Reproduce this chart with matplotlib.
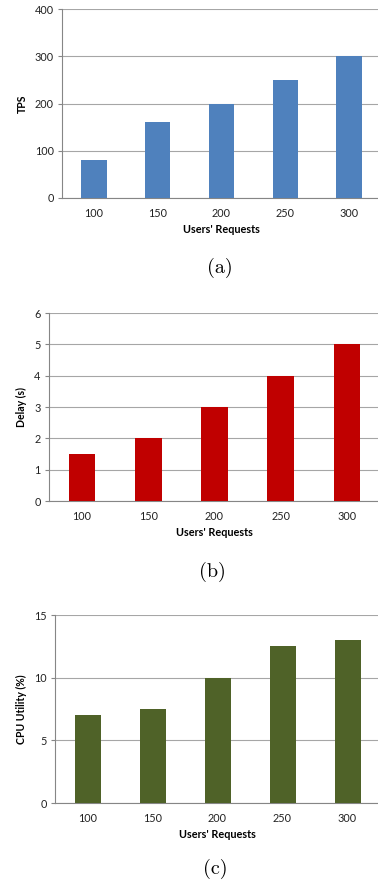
import matplotlib
matplotlib.use("Agg")
import matplotlib.pyplot as plt
import numpy as np

requests = ["100", "150", "200", "250", "300"]
tps = [80, 160, 200, 250, 300]
delay = [1.5, 2, 3, 4, 5]
cpu = [7, 7.5, 10, 12.5, 13]

W, H = 378, 886
fig = plt.figure(figsize=(W / 100, H / 100), dpi=100)
plt.rcParams['font.family'] = ['Lato', 'DejaVu Sans']


def panel(left, top, bottom, right, values, color, ylabel, yticks, caption, cap_y):
    ax = fig.add_axes([left / W, 1 - bottom / H, (right - left) / W, (bottom - top) / H])
    x = np.arange(len(requests))
    ax.bar(x, values, width=0.4, color=color, zorder=3)
    ax.set_xlim(-0.5, len(requests) - 0.5)
    ax.set_ylim(yticks[0], yticks[-1])
    ax.set_yticks(yticks)
    ax.set_xticks(x)
    ax.set_xticklabels(requests)
    ax.yaxis.grid(True, color='#a6a6a6', linewidth=0.8, zorder=0)
    for s in ['top', 'right']:
        ax.spines[s].set_visible(False)
    for s in ['left', 'bottom']:
        ax.spines[s].set_color('#868686')
        ax.spines[s].set_linewidth(0.8)
    ax.tick_params(axis='y', length=3, color='#868686', labelsize=7.8, pad=3, labelcolor='#222222')
    ax.tick_params(axis='x', length=0, labelsize=7.8, pad=7, labelcolor='#222222')
    ax.set_xlabel("Users' Requests", fontsize=7.8, fontweight='bold', labelpad=4)
    ax.set_ylabel(ylabel, fontsize=7.6, fontweight='bold', labelpad=5)
    fig.text(((left + right) / 2 - 2) / W, 1 - cap_y / H, caption, ha='center', va='center',
             fontsize=14.5, family='cmr10')
    return ax


panel(62, 9, 198, 381, tps, '#4f81bd', 'TPS', [0, 100, 200, 300, 400], '(a)', 268)
panel(49, 313, 501, 380, delay, '#c00000', 'Delay (s)', [0, 1, 2, 3, 4, 5, 6], '(b)', 572)
panel(55, 615, 803, 380, cpu, '#4f6228', 'CPU Utility (%)', [0, 5, 10, 15], '(c)', 869)

fig.savefig('out.png', dpi=100)
